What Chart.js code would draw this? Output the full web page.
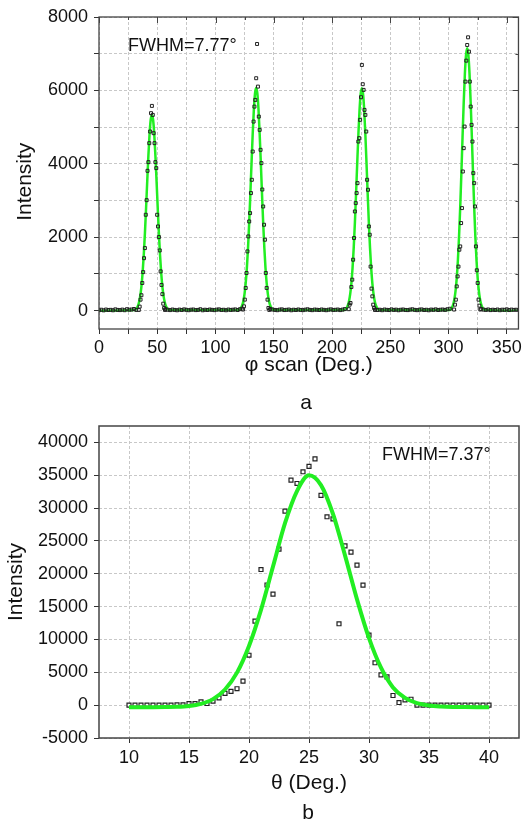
<!DOCTYPE html>
<html>
<head>
<meta charset="utf-8">
<script src="https://cdn.jsdelivr.net/npm/chart.js@4.4.1/dist/chart.umd.min.js"></script>
<style>
  html, body { margin: 0; padding: 0; background: #fff; }
  body { position: relative; width: 525px; height: 821px; overflow: hidden; font-family: "Liberation Sans", Arial, sans-serif; color: #111; }
  .box { position: absolute; left: 0; width: 525px; }
  #boxA { top: 0; height: 395px; }
  #boxB { top: 400px; height: 421px; }
  .note { position: absolute; font-size: 18px; line-height: 20px; white-space: nowrap; }
  .tag { position: absolute; width: 40px; text-align: center; font-size: 21px; line-height: 24px; }
</style>
</head>
<body>
<div class="box" id="boxA"><canvas id="chartA"></canvas></div>
<div class="box" id="boxB"><canvas id="chartB"></canvas></div>
<div class="note" style="left:128px; top:35px">FWHM=7.77°</div>
<div class="note" style="left:382px; top:444px">FWHM=7.37°</div>
<div class="tag" style="left:286px; top:390px">a</div>
<div class="tag" style="left:288px; top:800px">b</div>
<script>
// ---- (a) phi scan ----
// peak centres (Deg.)
const phiCenters = [45.4, 134.9, 225.6, 316.0];

// measured points around each peak, 0.75 deg apart
const phiOffsets = [-11.25, -10.5, -9.75, -9, -8.25, -7.5, -6.75, -6, -5.25, -4.5, -3.75, -3, -2.25, -1.5, -0.75, 0,
  0.75, 1.5, 2.25, 3, 3.75, 4.5, 5.25, 6, 6.75, 7.5, 8.25, 9, 9.75, 10.5, 11.25];
const phiPeak1 = [20, 110, 300, 420, 753, 1050, 1430, 1705, 2612, 3010, 3810, 4046, 4563, 4880, 5380, 5578,
  5333, 4835, 4563, 4046, 3883, 2612, 2294, 2005, 1641, 1070, 700, 450, 190, 73, 20];
const phiPeak2 = [30, 117, 300, 618, 1026, 1614, 2022, 2430, 2658, 3203, 3565, 4335, 5151, 5559, 5741, 6332,
  7265, 6104, 5287, 4925, 4381, 4019, 3300, 2838, 2340, 1932, 1026, 618, 300, 73, 20];
const phiPeak3 = [40, 163, 209, 645, 844, 1388, 1978, 2702, 2930, 3203, 3474, 4607, 4699, 5197, 5815, 6694,
  6169, 6014, 5469, 5333, 4879, 3565, 3293, 2294, 2068, 1200, 600, 390, 163, 73, 20];
const phiPeak4 = [30, 163, 299, 661, 933, 1200, 1660, 1750, 2386, 2794, 3791, 4427, 5015, 6240, 6811, 7238,
  7447, 7056, 6240, 5559, 5061, 4607, 3746, 3474, 2838, 1750, 1100, 754, 299, 136, 30];

// background points between the peaks, 2 deg apart
const baseStarts = [0, 57, 147, 237, 328];
const base0 = [12, 25, 8, 30, 18, 22, 10, 35, 20, 15, 28, 12, 40, 25, 30, 45, 20];
const base1 = [40, 25, 15, 30, 20, 10, 28, 18, 35, 22, 12, 26, 30, 15, 20, 38, 10, 25, 18, 30, 22, 14, 27, 35,
  19, 24, 11, 30, 20, 26, 33, 18, 40, 55];
const base2 = [45, 30, 20, 12, 28, 35, 16, 22, 30, 10, 25, 18, 32, 20, 14, 27, 36, 21, 13, 29, 24, 17, 31, 22,
  12, 26, 35, 19, 23, 30, 15, 28, 42];
const base3 = [32, 18, 25, 12, 30, 22, 16, 34, 20, 27, 11, 24, 31, 19, 15, 28, 36, 21, 13, 26, 33, 18, 24,
  10, 29, 22, 35, 17, 25, 30, 20, 38, 52];
const base4 = [45, 28, 20, 32, 15, 25, 18, 30, 12, 26, 22, 35, 16, 28, 20, 24, 18];

// gaussian fit, 1 deg apart
const fitOffsets = [-15, -14, -13, -12, -11, -10, -9, -8, -7, -6, -5, -4, -3, -2, -1, 0,
  1, 2, 3, 4, 5, 6, 7, 8, 9, 10, 11, 12, 13, 14, 15];
const fitPeak1 = [16, 34, 68, 129, 234, 403, 657, 1020, 1506, 2104, 2798, 3530, 4229, 4817, 5207, 5340,
  5207, 4817, 4229, 3530, 2798, 2104, 1506, 1020, 657, 403, 234, 129, 68, 34, 16];
const fitPeak2 = [18, 38, 77, 147, 266, 458, 747, 1159, 1712, 2392, 3181, 4012, 4807, 5475, 5918, 6070,
  5918, 5475, 4807, 4012, 3181, 2392, 1712, 1159, 747, 458, 266, 147, 77, 38, 18];
const fitPeak3 = [18, 38, 77, 147, 266, 458, 745, 1157, 1709, 2388, 3175, 4006, 4800, 5466, 5909, 6060,
  5909, 5466, 4800, 4006, 3175, 2388, 1709, 1157, 745, 458, 266, 147, 77, 38, 18];
const fitPeak4 = [21, 45, 91, 173, 314, 540, 879, 1366, 2016, 2817, 3747, 4726, 5663, 6449, 6971, 7150,
  6971, 6449, 5663, 4726, 3747, 2817, 2016, 1366, 879, 540, 314, 173, 91, 45, 21];

const phiTicks = [0, 25, 50, 75, 100, 125, 150, 175, 200, 225, 250, 275, 300, 325, 350];
const intensityTicksA = [0, 1000, 2000, 3000, 4000, 5000, 6000, 7000, 8000];

// ---- (b) theta scan ----
const thetaX = [10, 10.5, 11, 11.5, 12, 12.5, 13, 13.5, 14, 14.5, 15, 15.5, 16, 16.5, 17, 17.5, 18, 18.5, 19, 19.5,
  20, 20.5, 21, 21.5, 22, 22.5, 23, 23.5, 24, 24.5, 25, 25.5, 26, 26.5, 27, 27.5, 28, 28.5, 29, 29.5,
  30, 30.5, 31, 31.5, 32, 32.5, 33, 33.5, 34, 34.5, 35, 35.5, 36, 36.5, 37, 37.5, 38, 38.5, 39, 39.5, 40];
const thetaY = [0, 0, 0, 0, 0, 0, 0, 0, 50, 50, 250, 250, 500, 250, 600, 1100, 1800, 2100, 2500, 3650,
  7600, 12800, 20650, 18300, 16900, 23750, 29540, 34260, 33750, 35530, 36350, 37500, 31930, 28680, 28370, 12390,
  24260, 23300, 21320, 18270, 10660, 6450, 4620, 4310, 1470, 400, 800, 900, 0, 0, 0, 0, 0, 0, 0, 0, 0, 0, 0, 0, 0];
const thetaFitX = [10, 11, 12, 13, 14, 15, 16, 17, 18, 19, 20, 21, 22, 23, 24, 25, 26, 27, 28, 29, 30,
  31, 32, 33, 34, 35, 36, 37, 38, 39, 40];
const thetaFitY = [-300, -300, -300, -290, -260, -130, 200, 920, 2380, 4950, 9000, 14500, 21100, 27700, 32600,
  35000, 33500, 29100, 22800, 16100, 10200, 5700, 2700, 1100, 300, -50, -200, -270, -290, -300, -300];

const thetaTicks = [10, 15, 20, 25, 30, 35, 40];
const intensityTicksB = [-5000, 0, 5000, 10000, 15000, 20000, 25000, 30000, 35000, 40000];

const FONT = "'Liberation Sans', Arial, sans-serif";
const GREEN = "#22ee22";
const GRID = "#c8c8c8";

function pairs(xs, ys) {
  return xs.map(function (x, i) { return { x: x, y: ys[i] }; });
}

// build the point list of chart a
const phiPoints = [];
[base0, base1, base2, base3, base4].forEach(function (vals, k) {
  vals.forEach(function (v, i) { phiPoints.push({ x: baseStarts[k] + 2 * i, y: v }); });
});
[phiPeak1, phiPeak2, phiPeak3, phiPeak4].forEach(function (vals, k) {
  vals.forEach(function (v, i) { phiPoints.push({ x: phiCenters[k] + phiOffsets[i], y: v }); });
});
phiPoints.sort(function (a, b) { return a.x - b.x; });

const phiFit = [{ x: 0, y: 0 }];
[fitPeak1, fitPeak2, fitPeak3, fitPeak4].forEach(function (vals, k) {
  vals.forEach(function (v, i) { phiFit.push({ x: phiCenters[k] + fitOffsets[i], y: v }); });
});
phiFit.push({ x: 360, y: 0 });

// frame around plot + inner ticks on top/right
const framePlugin = {
  id: "frame",
  afterDatasetsDraw(chart, args, opts) {
    const ctx = chart.ctx;
    const area = chart.chartArea;
    const xs = chart.scales.x;
    const ys = chart.scales.y;
    ctx.save();
    ctx.strokeStyle = "#444";
    if (opts.mirror) {
      ctx.lineWidth = 1;
      ctx.beginPath();
      xs.ticks.forEach(function (t) {
        const px = Math.round(xs.getPixelForValue(t.value)) + 0.5;
        const len = t.label !== "" ? 6 : 3;
        ctx.moveTo(px, area.top);
        ctx.lineTo(px, area.top + len);
      });
      ys.ticks.forEach(function (t) {
        const py = Math.round(ys.getPixelForValue(t.value)) + 0.5;
        const len = t.label !== "" ? 6 : 3;
        ctx.moveTo(area.right, py);
        ctx.lineTo(area.right - len, py);
      });
      ctx.stroke();
    }
    ctx.lineWidth = opts.width;
    ctx.strokeRect(area.left, area.top, area.right - area.left, area.bottom - area.top);
    ctx.restore();
  }
};

function axis(o) {
  return {
    type: "linear",
    min: o.min,
    max: o.max,
    grid: { color: GRID, lineWidth: 1, tickLength: 5, tickColor: "#333", tickWidth: 1 },
    border: { display: false, dash: [3, 2] },
    ticks: {
      autoSkip: false,
      maxRotation: 0,
      padding: o.pad,
      color: "#111",
      font: { family: FONT, size: 18 },
      callback: o.label
    },
    title: {
      display: true,
      text: o.title,
      color: "#111",
      font: { family: FONT, size: 21 },
      padding: o.titlePad
    },
    afterBuildTicks: function (s) {
      s.ticks = o.ticks.map(function (v) { return { value: v }; });
    },
    afterFit: o.fit
  };
}

Chart.defaults.animation = false;

new Chart(document.getElementById("chartA"), {
  type: "scatter",
  data: {
    datasets: [
      {
        data: phiPoints,
        pointStyle: "rect",
        pointRadius: 2.1,
        borderWidth: 1,
        borderColor: "#222",
        backgroundColor: "rgba(255,255,255,0)"
      },
      {
        data: phiFit,
        showLine: true,
        pointRadius: 0,
        borderColor: GREEN,
        borderWidth: 2.5,
        cubicInterpolationMode: "monotone"
      }
    ]
  },
  options: {
    responsive: true,
    maintainAspectRatio: false,
    layout: { padding: { top: 17, right: 6, left: 0, bottom: 0 } },
    plugins: { legend: { display: false }, tooltip: { enabled: false }, frame: { mirror: true, width: 1.3 } },
    scales: {
      x: axis({
        min: 0, max: 360, ticks: phiTicks, pad: 3,
        label: function (v) { return v % 50 === 0 ? v : ""; },
        title: "φ scan (Deg.)",
        titlePad: { top: 0, bottom: 17 },
        fit: function (s) { s.height = 66; }
      }),
      y: axis({
        min: -500, max: 8000, ticks: intensityTicksA, pad: 6,
        label: function (v) { return v % 2000 === 0 ? v : ""; },
        title: "Intensity   ",
        titlePad: { top: 13, bottom: 0 },
        fit: function (s) { s.width = 99; }
      })
    }
  },
  plugins: [framePlugin]
});

new Chart(document.getElementById("chartB"), {
  type: "scatter",
  data: {
    datasets: [
      {
        data: pairs(thetaFitX, thetaFitY),
        showLine: true,
        pointRadius: 0,
        borderColor: GREEN,
        borderWidth: 4,
        cubicInterpolationMode: "monotone"
      },
      {
        data: pairs(thetaX, thetaY),
        pointStyle: "rect",
        pointRadius: 2.8,
        borderWidth: 1.2,
        borderColor: "#222",
        backgroundColor: "rgba(255,255,255,0)"
      }
    ]
  },
  options: {
    responsive: true,
    maintainAspectRatio: false,
    layout: { padding: { top: 26, right: 6, left: 0, bottom: 0 } },
    plugins: { legend: { display: false }, tooltip: { enabled: false }, frame: { mirror: false, width: 1.5 } },
    scales: {
      x: axis({
        min: 7.5, max: 42.5, ticks: thetaTicks, pad: 4,
        label: function (v) { return v; },
        title: "θ (Deg.)",
        titlePad: { top: 0, bottom: 25 },
        fit: function (s) { s.height = 83; }
      }),
      y: axis({
        min: -5000, max: 42500, ticks: intensityTicksB, pad: 6,
        label: function (v) { return v; },
        title: "Intensity",
        titlePad: { top: 4, bottom: 0 },
        fit: function (s) { s.width = 99; }
      })
    }
  },
  plugins: [framePlugin]
});
</script>
</body>
</html>
